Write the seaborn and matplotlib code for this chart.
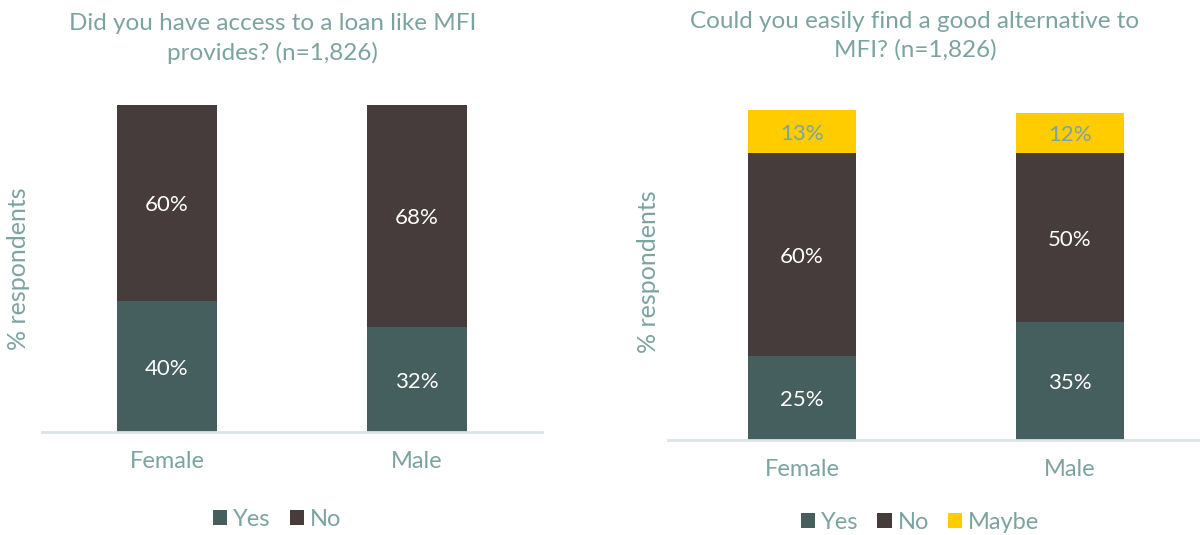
import matplotlib
matplotlib.use("Agg")
import matplotlib.pyplot as plt
from matplotlib.patches import Patch
import seaborn as sns
import pandas as pd
import numpy as np

# Survey data
genders = ["Female", "Male"]

access_yes = [40, 32]
access_no = [60, 68]

alt_yes = [25, 35]
alt_no = [60, 50]
alt_maybe = [13, 12]

title_left = "Did you have access to a loan like MFI\nprovides? (n=1,826)"
title_right = "Could you easily find a good alternative to\nMFI? (n=1,826)"
ylabel = "% respondents"

C_YES = "#455E5E"
C_NO = "#463C3B"
C_MAYBE = "#FFCC00"
C_TEXT = "#7BA4A1"
C_AXIS = "#DCE4E5"

sns.set_theme(style="white")
plt.rcParams["font.family"] = ["Lato", "DejaVu Sans"]

fig = plt.figure(figsize=(12, 5.35), dpi=100)
ax1 = fig.add_axes([0.035, 0.1925, 0.4167, 0.611])
ax2 = fig.add_axes([0.5567, 0.1776, 0.4467, 0.63])


def stacked(ax, layers, names, colors, label_colors):
    # draw cumulative totals from the top layer down so lower layers overlay
    cum = np.cumsum(np.array(layers), axis=0)
    for i in range(len(layers) - 1, -1, -1):
        df = pd.DataFrame({"gender": genders, "value": cum[i]})
        sns.barplot(data=df, x="gender", y="value", color=colors[i],
                    width=0.4, linewidth=0, saturation=1, ax=ax)
    for i, vals in enumerate(layers):
        for j, v in enumerate(vals):
            mid = cum[i][j] - v / 2
            ax.text(j, mid, f"{v}%", ha="center", va="center_baseline",
                    color=label_colors[i], fontsize=16)
    ax.set_xlim(-0.5, 1.5)
    ax.set_ylim(0, 100)
    ax.set_xlabel("")
    ax.set_ylabel(ylabel, color=C_TEXT, fontsize=18)
    ax.set_yticks([])
    for s in ["top", "right", "left"]:
        ax.spines[s].set_visible(False)
    ax.spines["bottom"].set_color(C_AXIS)
    ax.spines["bottom"].set_linewidth(2)
    ax.tick_params(axis="x", colors=C_TEXT, labelsize=17, length=0, pad=14)
    handles = [Patch(facecolor=c, edgecolor="none") for c in colors]
    ax.legend(handles, names, loc="upper center", frameon=False,
              ncol=len(names), fontsize=17, labelcolor=C_TEXT,
              handlelength=0.6, handleheight=0.6, handletextpad=0.25,
              columnspacing=0.8)


stacked(ax1, [access_yes, access_no], ["Yes", "No"], [C_YES, C_NO],
        ["white", "white"])
stacked(ax2, [alt_yes, alt_no, alt_maybe], ["Yes", "No", "Maybe"],
        [C_YES, C_NO, C_MAYBE], ["white", "white", C_TEXT])

ax1.legend_.set_bbox_to_anchor((0.47, -0.17))
ax2.legend_.set_bbox_to_anchor((0.47, -0.15))

ax1.yaxis.set_label_coords(-0.024, 0.5)
ax2.yaxis.set_label_coords(-0.015, 0.5)

fig.text(0.227, 0.975, title_left, ha="center", va="top", color=C_TEXT,
         fontsize=17.5, linespacing=1.4)
fig.text(0.7625, 0.98, title_right, ha="center", va="top", color=C_TEXT,
         fontsize=17.5, linespacing=1.4)

fig.savefig("out.png", dpi=100)
